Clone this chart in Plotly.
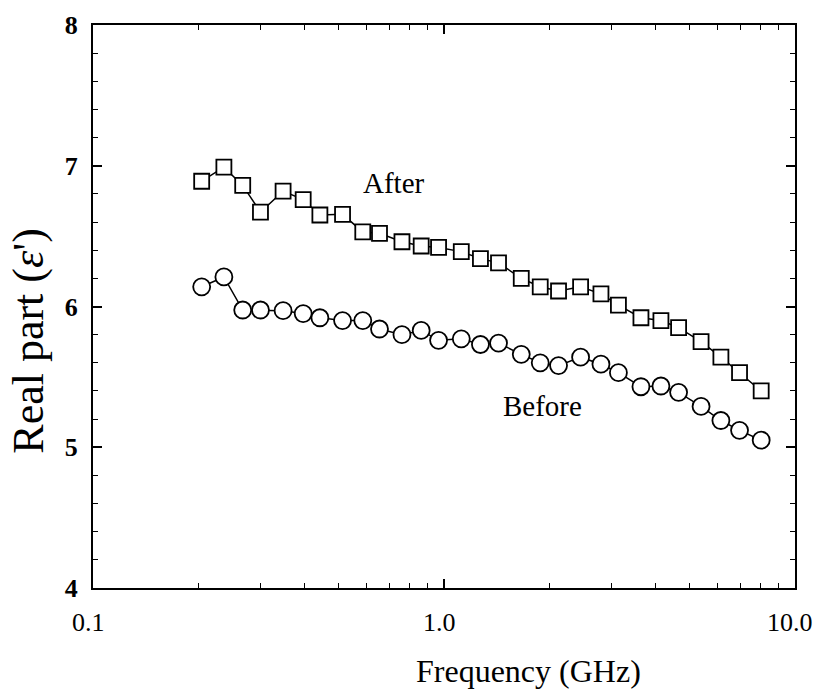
import math
import plotly.graph_objects as go

freq = [0.204, 0.236, 0.267, 0.300, 0.348, 0.397, 0.443, 0.514, 0.587, 0.655,
        0.759, 0.861, 0.965, 1.12, 1.27, 1.43, 1.66, 1.88, 2.12, 2.45,
        2.80, 3.14, 3.64, 4.15, 4.66, 5.40, 6.15, 6.95, 8.01]
after = [6.89, 6.99, 6.86, 6.67, 6.82, 6.76, 6.65, 6.655, 6.53, 6.52,
         6.46, 6.43, 6.42, 6.39, 6.34, 6.31, 6.20, 6.14, 6.11, 6.14,
         6.09, 6.01, 5.92, 5.90, 5.85, 5.75, 5.64, 5.53, 5.40]
before = [6.14, 6.21, 5.975, 5.975, 5.97, 5.95, 5.92, 5.90, 5.90, 5.84,
          5.80, 5.83, 5.76, 5.77, 5.73, 5.74, 5.66, 5.60, 5.58, 5.64,
          5.59, 5.53, 5.43, 5.435, 5.39, 5.29, 5.19, 5.12, 5.05]

x_ticks = [0.1, 1.0, 10.0]
x_ticklabels = ["0.1", "1.0", "10.0"]
x_minor = [0.2, 0.3, 0.4, 0.5, 0.6, 0.7, 0.8, 0.9, 2, 3, 4, 5, 6, 7, 8, 9]
y_ticks = [4, 5, 6, 7, 8]

label_after = ("After", 0.72, 6.875)
label_before = ("Before", 1.91, 5.29)
x_title = "Frequency (GHz)"
y_title = "Real part (<i>ε</i>')"

FONT = "Liberation Serif, Times New Roman, serif"

fig = go.Figure()
fig.add_trace(go.Scatter(
    x=freq, y=after, mode="lines+markers", name="After",
    line=dict(color="black", width=1.5),
    marker=dict(symbol="square", size=15, color="white",
                line=dict(color="black", width=1.8)),
))
fig.add_trace(go.Scatter(
    x=freq, y=before, mode="lines+markers", name="Before",
    line=dict(color="black", width=1.5),
    marker=dict(symbol="circle", size=17, color="white",
                line=dict(color="black", width=1.8)),
))

for txt, fx, fy in (label_after, label_before):
    fig.add_annotation(x=math.log10(fx), y=fy, xref="x", yref="y", text=txt,
                       showarrow=False, font=dict(family=FONT, size=29, color="black"))

# x tick labels drawn as annotations at the tick positions (slightly left, as in the scan)
for v, t in zip(x_ticks, x_ticklabels):
    fig.add_annotation(x=math.log10(v), y=0, xref="x", yref="paper", text=t,
                       showarrow=False, xanchor="center", yanchor="top",
                       xshift=-5, yshift=-18,
                       font=dict(family=FONT, size=26, color="black"))

fig.add_annotation(x=0.62, y=-0.148, xref="paper", yref="paper", text=x_title,
                   showarrow=False, xanchor="center", yanchor="middle",
                   font=dict(family=FONT, size=32, color="black"))
fig.add_annotation(x=-0.092, y=0.44, xref="paper", yref="paper", text=y_title,
                   showarrow=False, xanchor="center", yanchor="middle", textangle=-90,
                   font=dict(family=FONT, size=44, color="black"))

axis_common = dict(
    showline=True, linecolor="black", linewidth=2, mirror="ticks",
    ticks="inside", tickcolor="black", tickwidth=1.5, ticklen=9,
    showgrid=False, zeroline=False,
)

fig.update_xaxes(
    type="log", range=[-1, 1], tickvals=x_ticks, showticklabels=False,
    minor=dict(tickvals=x_minor, ticks="inside", ticklen=5, tickcolor="black", tickwidth=1.2, showgrid=False),
    **axis_common,
)
fig.update_yaxes(
    range=[4, 8], tickvals=y_ticks,
    tickfont=dict(family=FONT, size=26, color="black", weight="bold"),
    minor=dict(dtick=0.2, ticks="inside", ticklen=5, tickcolor="black", tickwidth=1.2, showgrid=False),
    ticklabelstandoff=8,
    **axis_common,
)

fig.update_layout(
    width=822, height=696,
    margin=dict(l=93, r=27, t=25, b=108),
    plot_bgcolor="white", paper_bgcolor="white",
    showlegend=False,
)

fig.write_html(
    "out.html",
    config={"displayModeBar": False},
    post_script="document.body.style.margin='0';document.documentElement.style.overflow='hidden';",
)
